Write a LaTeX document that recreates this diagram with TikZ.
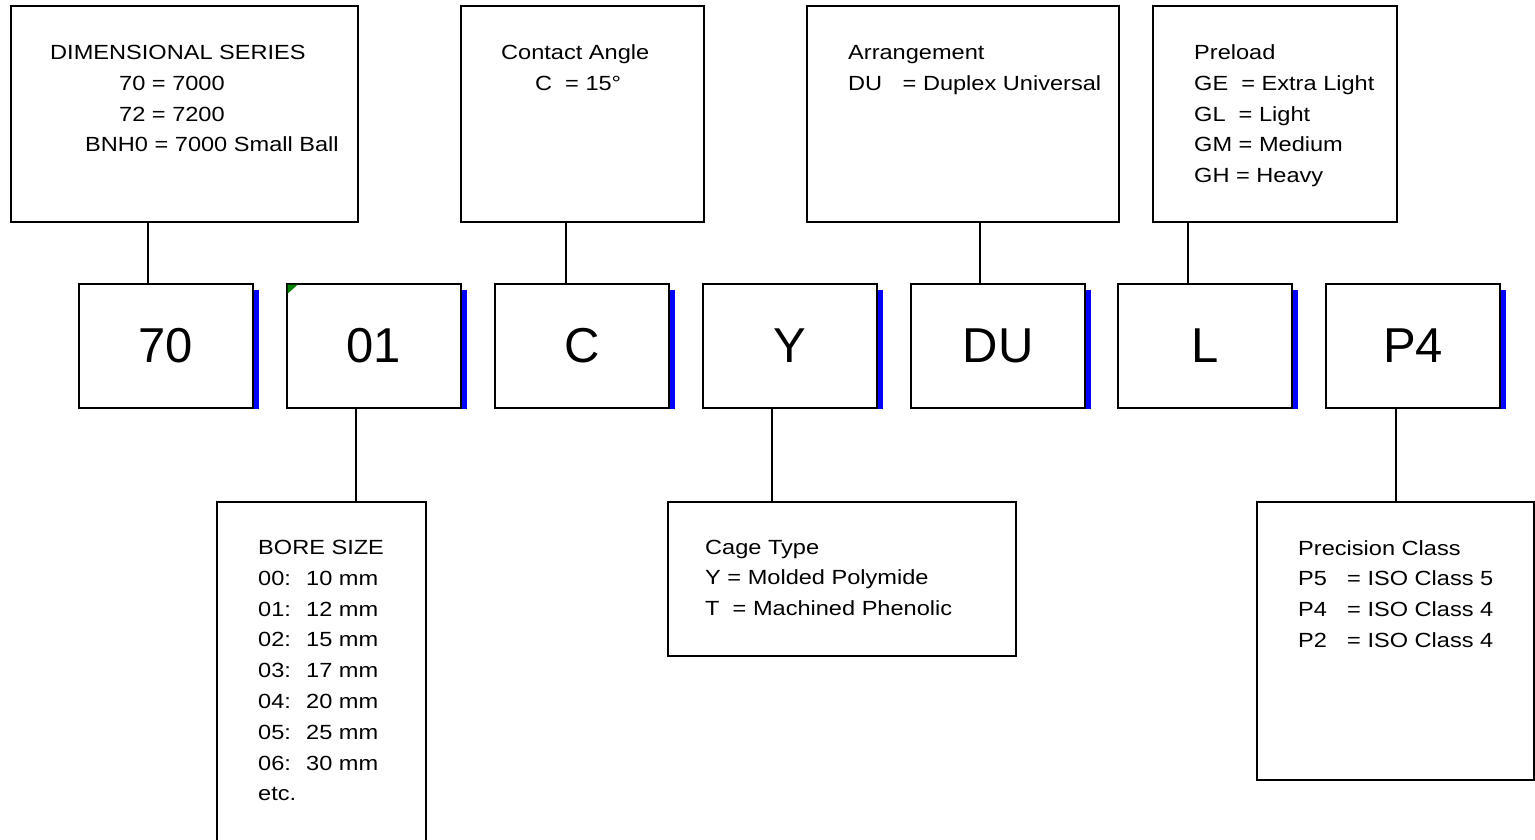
\documentclass[tikz,border=0pt]{standalone}
\usepackage{fontspec}
\setmainfont{Liberation Sans}[FakeStretch=1.15]
\newfontfamily\bigfont{Liberation Sans}
\usetikzlibrary{calc}
\begin{document}
\begin{tikzpicture}[x=1pt,y=-1pt,
  infobox/.style={draw=black, line width=2pt, inner sep=0pt},
  codebox/.style={draw=black, line width=1.3pt, minimum width=174pt, minimum height=124pt, inner sep=0pt, font=\bigfont\fontsize{49}{50}\selectfont},
  info/.style={anchor=base west, inner sep=0pt, font=\fontsize{20.5}{30.8}\selectfont},
  link/.style={draw=black, line width=2pt},
  bar/.style={fill=blue}]
\useasboundingbox (0,0) rectangle (1535,840);
\fill[white] (0,0) rectangle (1535,840);
\clip (0,0) rectangle (1535,840);

% top description boxes
\node[infobox, minimum width=347pt, minimum height=216pt] (dim) at (184.5,114) {};
\node[infobox, minimum width=243pt, minimum height=216pt] (ang) at (582.5,114) {};
\node[infobox, minimum width=312pt, minimum height=216pt] (arr) at (963,114) {};
\node[infobox, minimum width=244pt, minimum height=216pt] (pre) at (1275,114) {};

\node[info] (dimtxt) at (50,59.5) {\begin{tabular}[t]{@{}l@{}}DIMENSIONAL SERIES\\ \hspace*{69pt}70 = 7000\\ \hspace*{69pt}72 = 7200\\ \hspace*{35pt}BNH0 = 7000 Small Ball\end{tabular}};
\node[info] (angtxt) at (501,59.5) {\begin{tabular}[t]{@{}l@{}}Contact Angle\\ \hspace*{34pt}\makebox[30pt][l]{C}= 15°\end{tabular}};
\node[info] (arrtxt) at (848,59.5) {\begin{tabular}[t]{@{}l@{}}Arrangement\\ \makebox[54.5pt][l]{DU}= Duplex Universal\end{tabular}};
\node[info] (pretxt) at (1194,59.5) {\begin{tabular}[t]{@{}l@{}}Preload\\ GE~~= Extra Light\\ GL~~= Light\\ GM = Medium\\ GH = Heavy\end{tabular}};

% code boxes
\node[codebox, line width=2.5pt] (m70) at (166,346) {70};
\node[codebox] (m01) at (374,346) {01};
\node[codebox] (mC) at (582,346) {C};
\node[codebox] (mY) at (790,346) {Y};
\node[codebox] (mDU) at (998,346) {DU};
\node[codebox] (mL) at (1205,346) {L};
\node[codebox] (mP) at (1413,346) {P4};
\foreach \nm in {m70,m01,mC,mY,mDU,mL,mP}
  \fill[bar] ($(\nm.north east)+(0,7)$) rectangle ($(\nm.south east)+(5,0)$);
\fill[green!50!black] ($(m01.north west)+(1.3,1.3)$) -- ++(10,0) -- ++(-10,9) -- cycle;

% bottom description boxes
\node[infobox, minimum width=209pt, minimum height=400pt] (bore) at (321.5,702) {};
\node[infobox, minimum width=348pt, minimum height=154pt] (cage) at (842,579) {};
\node[infobox, minimum width=277pt, minimum height=278pt] (prec) at (1395.5,641) {};

\node[info] (boretxt) at (258,554.5) {\begin{tabular}[t]{@{}l@{}}BORE SIZE\\
\makebox[48pt][l]{00:}10 mm\\ \makebox[48pt][l]{01:}12 mm\\ \makebox[48pt][l]{02:}15 mm\\
\makebox[48pt][l]{03:}17 mm\\ \makebox[48pt][l]{04:}20 mm\\ \makebox[48pt][l]{05:}25 mm\\
\makebox[48pt][l]{06:}30 mm\\ etc.\end{tabular}};
\node[info] (cagetxt) at (705,554) {\begin{tabular}[t]{@{}l@{}}Cage Type\\ Y = Molded Polymide\\ T~~= Machined Phenolic\end{tabular}};
\node[info] (prectxt) at (1298,555) {\begin{tabular}[t]{@{}l@{}}Precision Class\\ \makebox[49pt][l]{P5}= ISO Class 5\\ \makebox[49pt][l]{P4}= ISO Class 4\\ \makebox[49pt][l]{P2}= ISO Class 4\end{tabular}};

% connectors
\coordinate (k1) at (148,0);
\coordinate (k2) at (566,0);
\coordinate (k3) at (980,0);
\coordinate (k4) at (1188,0);
\coordinate (k5) at (356,0);
\coordinate (k6) at (772,0);
\coordinate (k7) at (1396,0);
\draw[link] (dim.south -| k1) -- (m70.north -| k1);
\draw[link] (ang.south -| k2) -- (mC.north -| k2);
\draw[link] (arr.south -| k3) -- (mDU.north -| k3);
\draw[link] (pre.south -| k4) -- (mL.north -| k4);
\draw[link] (m01.south -| k5) -- (bore.north -| k5);
\draw[link] (mY.south -| k6) -- (cage.north -| k6);
\draw[link] (mP.south -| k7) -- (prec.north -| k7);
\end{tikzpicture}
\end{document}
